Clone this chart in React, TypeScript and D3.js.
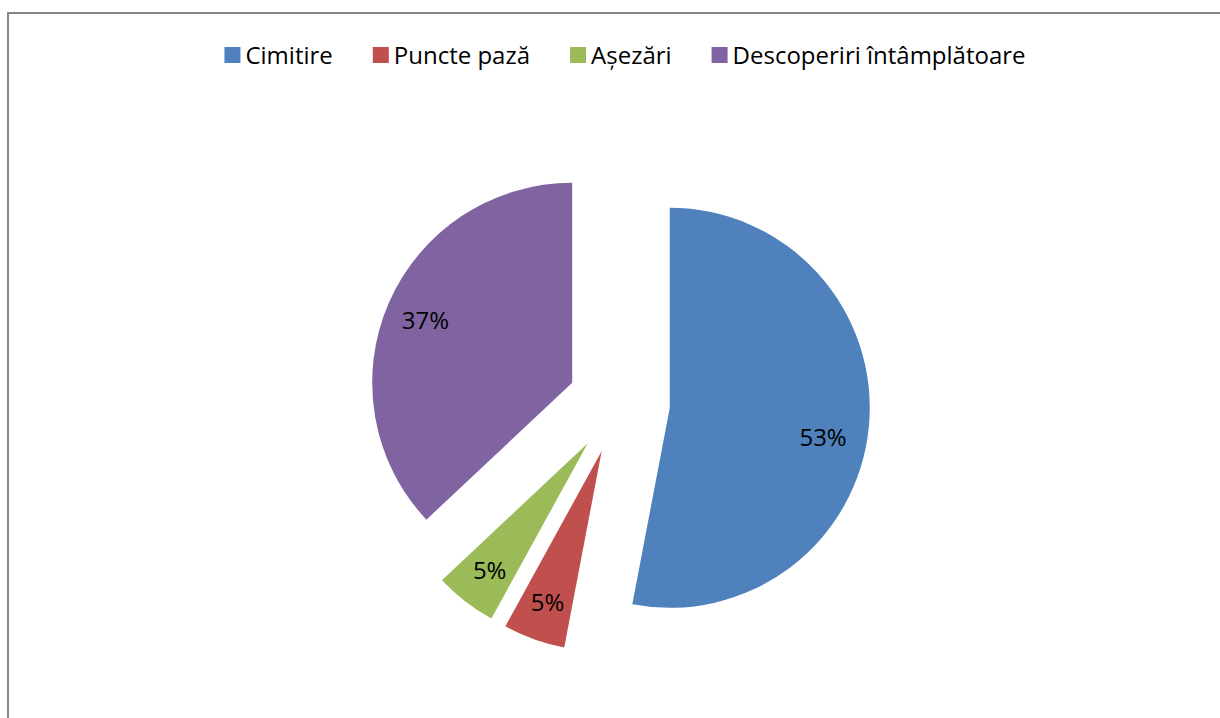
import { useEffect, useRef } from 'react';
import * as d3 from 'd3';

const categories = ['Cimitire', 'Puncte pază', 'Așezări', 'Descoperiri întâmplătoare'];
const values = [53, 5, 5, 37];
const colors = ['#4F81BD', '#C0504D', '#9BBB59', '#8064A2'];

const App = () => {
  const ref = useRef<SVGSVGElement>(null);

  useEffect(() => {
    const width = 1220;
    const height = 718;
    const svg = d3.select(ref.current);
    svg.selectAll('*').remove();

    const font = '"Open Sans", Lato, sans-serif';

    // chart border
    svg
      .append('rect')
      .attr('x', 8)
      .attr('y', 13)
      .attr('width', width)
      .attr('height', height)
      .attr('fill', '#fff')
      .attr('stroke', '#868686')
      .attr('stroke-width', 2);

    // legend
    const legend = svg.append('g');
    const items = legend
      .selectAll('g')
      .data(categories)
      .join('g');
    items
      .append('rect')
      .attr('y', 47)
      .attr('width', 16)
      .attr('height', 16)
      .attr('fill', (_, i) => colors[i]);
    items
      .append('text')
      .attr('x', 21)
      .attr('y', 64)
      .attr('font-family', font)
      .attr('font-size', 24)
      .attr('fill', '#000')
      .text((d) => d);

    let xPos = 0;
    items.each(function () {
      const g = d3.select(this);
      const w = (g.select('text').node() as SVGTextElement).getComputedTextLength();
      g.attr('transform', `translate(${xPos},0)`);
      xPos += 21 + w + 40;
    });
    const legendWidth = xPos - 40;
    legend.attr('transform', `translate(${625 - legendWidth / 2},0)`);

    // pie
    const cx = 619;
    const cy = 403;
    const r = 200;
    const explode = 51;

    const pie = d3
      .pie<number>()
      .sort(null)
      .value((d) => d);
    const arcs = pie(values);
    const arc = d3.arc<d3.PieArcDatum<number>>().innerRadius(0).outerRadius(r);

    const slices = svg
      .append('g')
      .attr('transform', `translate(${cx},${cy})`)
      .selectAll('g')
      .data(arcs)
      .join('g')
      .attr('transform', (d) => {
        const a = (d.startAngle + d.endAngle) / 2;
        return `translate(${explode * Math.sin(a)},${-explode * Math.cos(a)})`;
      });

    slices
      .append('path')
      .attr('d', arc)
      .attr('fill', (_, i) => colors[i]);

    slices
      .append('text')
      .attr('x', (d) => 0.8 * r * Math.sin((d.startAngle + d.endAngle) / 2) - (d.index === 0 ? 6 : 0))
      .attr('y', (d) => -0.8 * r * Math.cos((d.startAngle + d.endAngle) / 2) + (d.index === 0 ? 14 : 0))
      .attr('text-anchor', 'middle')
      .attr('dominant-baseline', 'central')
      .attr('font-family', font)
      .attr('font-size', 24)
      .attr('fill', '#000')
      .text((d) => `${d.data}%`);
  }, []);

  return (
    <svg
      ref={ref}
      width={1220}
      height={718}
      style={{ position: 'absolute', left: 0, top: 0, background: '#fff' }}
    />
  );
};

export default App;
